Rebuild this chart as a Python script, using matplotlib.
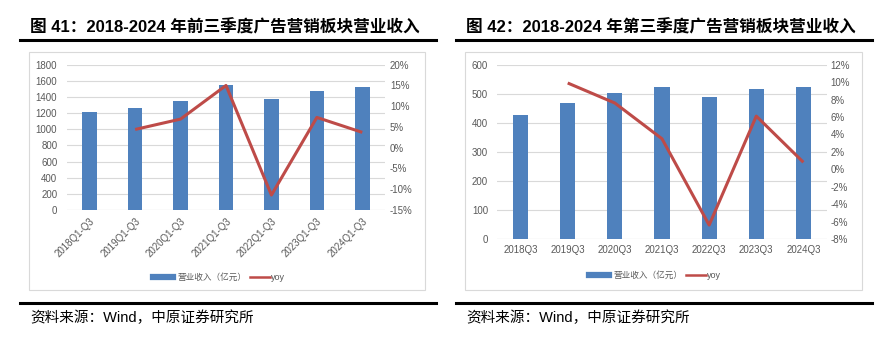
import matplotlib
matplotlib.use("Agg")
import matplotlib.pyplot as plt
from matplotlib.lines import Line2D
from matplotlib.patches import Rectangle
from matplotlib.ticker import FuncFormatter
import numpy as np

plt.rcParams['font.family'] = ['Liberation Sans', 'Noto Sans CJK SC', 'DejaVu Sans']

# ---- data ----
cats_left = ["2018Q1-Q3", "2019Q1-Q3", "2020Q1-Q3", "2021Q1-Q3", "2022Q1-Q3", "2023Q1-Q3", "2024Q1-Q3"]
rev_left = [1210, 1263, 1350, 1551, 1374, 1473, 1527]
yoy_left = [None, 4.4, 6.9, 15.0, -11.4, 7.3, 3.7]

cats_right = ["2018Q3", "2019Q3", "2020Q3", "2021Q3", "2022Q3", "2023Q3", "2024Q3"]
rev_right = [426, 467, 504, 522, 488, 518, 522]
yoy_right = [None, 9.9, 7.6, 3.5, -6.4, 6.1, 0.8]

title_left = "图 41：2018-2024 年前三季度广告营销板块营业收入"
title_right = "图 42：2018-2024 年第三季度广告营销板块营业收入"
source_text = "资料来源：Wind，中原证券研究所"
legend_bar = "营业收入（亿元）"
legend_line = "yoy"

W, H = 892, 339
BAR = "#4F81BD"
LINE = "#BE4B48"
GRID = "#D9D9D9"
TXT = "#595959"

fig = plt.figure(figsize=(W / 100, H / 100), dpi=100)


def fx(x):
    return x / W


def fy(y):
    return 1 - y / H


def hline(x0, x1, y, color, lw):
    fig.add_artist(Line2D([fx(x0), fx(x1)], [fy(y), fy(y)], color=color, lw=lw,
                          transform=fig.transFigure))


def box(x0, y0, x1, y1):
    fig.add_artist(Rectangle((fx(x0), fy(y1)), fx(x1) - fx(x0), fy(y0) - fy(y1),
                             transform=fig.transFigure, fill=False, ec=GRID, lw=0.8))


def panel(title, tx, ux0, ux1, bx0, bx1, ax_rect, cats, rev, yoy,
          ylim, ystep, y2lim, y2step, rotate, leg_y, leg_x, pad_l, pad_r):
    fig.text(fx(tx), fy(27), title, fontsize=12, fontweight='bold', va='center', ha='left',
             color='black')
    hline(ux0, ux1, 40, 'black', 2.2)
    box(bx0, 52, bx1, 290)
    hline(ux0, ux1, 302.5, 'black', 2.2)
    fig.text(fx(tx), fy(318), source_text, fontsize=10.5, va='center', ha='left', color='black')

    l, t, r, b = ax_rect
    ax = fig.add_axes([fx(l), fy(b), fx(r) - fx(l), fy(t) - fy(b)])
    x = list(range(len(cats)))
    ax.bar(x, rev, width=0.32, color=BAR, zorder=3)
    ax.set_xlim(-0.5, len(cats) - 0.5)
    ax.set_ylim(*ylim)
    ax.set_yticks(np.arange(ylim[0], ylim[1] + 1, ystep))
    ax.grid(axis='y', color=GRID, lw=0.8, zorder=0)
    for s in ax.spines.values():
        s.set_visible(False)
    ax.axhline(0, color=GRID, lw=0.8, zorder=1)
    ax.tick_params(axis='both', length=0, labelsize=7, colors=TXT)
    ax.tick_params(axis='y', pad=pad_l)
    ax.set_xticks(x)
    if rotate:
        ax.set_xticklabels(cats, rotation=45, ha='right', rotation_mode='anchor')
    else:
        ax.set_xticklabels(cats)
    ax.tick_params(axis='x', pad=4)

    ax2 = ax.twinx()
    xs = [i for i, v in enumerate(yoy) if v is not None]
    vs = [v for v in yoy if v is not None]
    ax2.plot(xs, vs, color=LINE, lw=2.2, zorder=4, solid_capstyle='butt')
    ax2.set_ylim(*y2lim)
    ax2.set_yticks(np.arange(y2lim[0], y2lim[1] + 0.01, y2step))
    ax2.yaxis.set_major_formatter(FuncFormatter(lambda v, p: f"{v:.0f}%"))
    for s in ax2.spines.values():
        s.set_visible(False)
    ax2.tick_params(axis='y', length=0, labelsize=7, colors=TXT, pad=pad_r)

    # legend
    lx = leg_x
    hline(lx, lx + 20, leg_y, BAR, 4.5)
    fig.text(fx(lx + 24), fy(leg_y), legend_bar, fontsize=6.2, color=TXT, va='center', ha='left',
             family=['Noto Sans CJK SC'])
    hline(lx + 97, lx + 117, leg_y, LINE, 1.8)
    fig.text(fx(lx + 118), fy(leg_y + 0.5), legend_line, fontsize=6.5, color=TXT, va='center',
             ha='left')


panel(title_left, 30, 20, 436, 29, 425, (67, 64.7, 385, 210),
      cats_left, rev_left, yoy_left, (0, 1800), 200, (-15, 20), 5, True, 277, 153, 7, 3.5)
panel(title_right, 466, 456, 872, 465, 862, (497, 64.7, 827, 239),
      cats_right, rev_right, yoy_right, (0, 600), 100, (-8, 12), 2, False, 275, 589, 6.5, 2.5)

fig.savefig("out.png", dpi=100)
